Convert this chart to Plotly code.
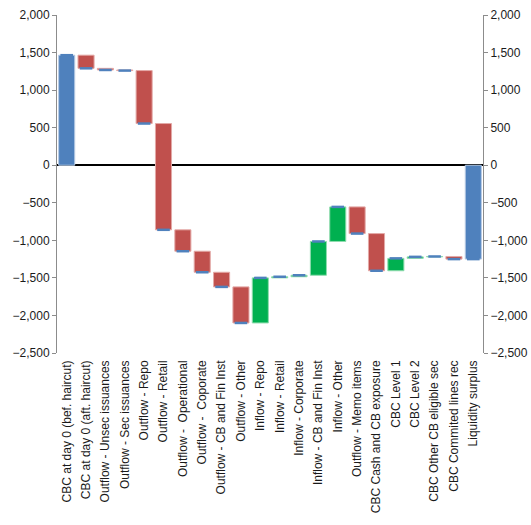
import numpy as np
import plotly.graph_objects as go

# Liquidity waterfall: counterbalancing capacity, flows and resulting surplus
categories = [
    "CBC at day 0 (bef. haircut)",
    "CBC at day 0 (aft. haircut)",
    "Outflow - Unsec issuances",
    "Outflow - Sec issuances",
    "Outflow - Repo",
    "Outflow - Retail",
    "Outflow -  Operational",
    "Outflow -  Coporate",
    "Outflow - CB and Fin Inst",
    "Outflow - Other",
    "Inflow - Repo",
    "Inflow - Retail",
    "Inflow - Corporate",
    "Inflow - CB and Fin Inst",
    "Inflow - Other",
    "Outflow - Memo items",
    "CBC Cash and CB exposure",
    "CBC Level 1",
    "CBC Level 2",
    "CBC Other CB eligible sec",
    "CBC Commited lines rec",
    "Liquidity surplus",
]

changes = [1465, -175, -22, -8, -705, -1415, -285, -280, -195, -480,
           600, 15, 20, 450, 460, -355, -495, 165, 20, 5, -35, 0]

measures = ["absolute"] + ["relative"] * 20 + ["total"]

tick_values = [2000, 1500, 1000, 500, 0, -500, -1000, -1500, -2000, -2500]

BLUE = "#4F81BD"
RED = "#C0504D"
GREEN = "#00B050"

# running level at the end of each step (used for the end-of-step markers)
levels = np.cumsum(changes[:-1]).tolist()
levels.append(levels[-1])

font = dict(family="Liberation Sans, Arial, sans-serif", size=12, color="#1a1a1a")

fig = go.Figure()
fig.add_trace(go.Waterfall(
    x=categories,
    y=changes,
    measure=measures,
    connector=dict(visible=False),
    increasing=dict(marker=dict(color=GREEN, line=dict(color="#8fdcae", width=1))),
    decreasing=dict(marker=dict(color=RED, line=dict(color="#e3a9a7", width=1))),
    totals=dict(marker=dict(color=BLUE, line=dict(color="#b5c9e3", width=1))),
    textinfo="none",
    hoverinfo="x+y",
    showlegend=False,
))

fig.add_trace(go.Scatter(
    x=categories,
    y=levels,
    mode="markers",
    marker=dict(symbol="line-ew", size=9, line=dict(color=BLUE, width=2.5)),
    yaxis="y2",
    hoverinfo="skip",
    showlegend=False,
))

yaxis_common = dict(
    range=[-2500, 2000],
    tickvals=tick_values,
    tickformat=",d",
    ticks="outside",
    ticklen=4,
    tickcolor="#8c8c8c",
    showline=True,
    linecolor="#8c8c8c",
    linewidth=1,
    showgrid=False,
    tickfont=font,
    automargin=False,
)

fig.update_layout(
    width=531,
    height=525,
    margin=dict(l=57, r=48, t=15, b=172),
    paper_bgcolor="white",
    plot_bgcolor="white",
    waterfallgap=0.17,
    xaxis=dict(
        range=[-0.5, len(categories) - 0.5],
        tickangle=-90,
        tickfont=font,
        showline=False,
        showgrid=False,
        ticks="",
        ticklabelstandoff=4,
        automargin=False,
    ),
    yaxis=dict(
        **yaxis_common,
        side="left",
        zeroline=True,
        zerolinecolor="#000000",
        zerolinewidth=2,
    ),
    yaxis2=dict(
        **yaxis_common,
        side="right",
        overlaying="y",
        zeroline=False,
    ),
)

fig.write_html("out.html")
